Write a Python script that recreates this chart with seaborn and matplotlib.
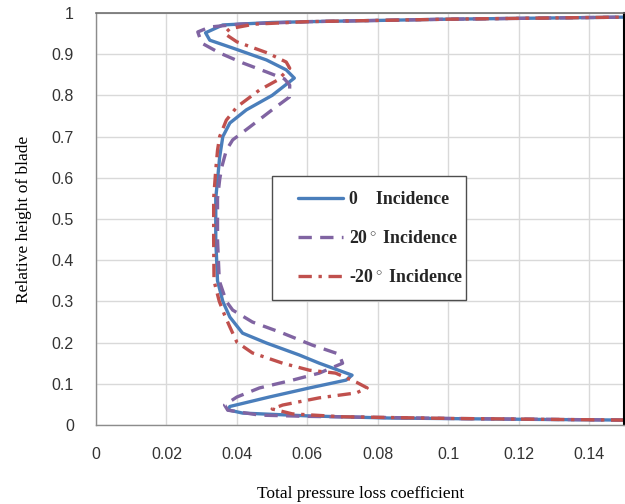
import matplotlib
matplotlib.use("Agg")
import matplotlib.pyplot as plt
from matplotlib.patches import Rectangle
import seaborn as sns
import pandas as pd

# ---- data ----
x_0 = [0.150, 0.120, 0.083, 0.0606, 0.0416, 0.0374, 0.038, 0.0492, 0.0606, 0.071, 0.0727,
       0.0634, 0.0577, 0.0484, 0.0416, 0.038, 0.036, 0.0345, 0.034, 0.034, 0.0345, 0.0351,
       0.036, 0.038, 0.0427, 0.050, 0.0563, 0.054, 0.0484, 0.0388, 0.0323, 0.0311, 0.036,
       0.050, 0.0606, 0.100, 0.150]
y_0 = [0.012, 0.014, 0.017, 0.022, 0.029, 0.037, 0.045, 0.068, 0.090, 0.109, 0.121,
       0.150, 0.170, 0.199, 0.223, 0.262, 0.300, 0.350, 0.450, 0.550, 0.595, 0.650,
       0.700, 0.733, 0.765, 0.800, 0.842, 0.862, 0.886, 0.915, 0.934, 0.952, 0.971,
       0.977, 0.979, 0.985, 0.990]

x_20 = [0.150, 0.100, 0.060, 0.0464, 0.0374, 0.0365, 0.040, 0.0464, 0.0558, 0.0634, 0.070,
        0.069, 0.0614, 0.053, 0.0444, 0.0388, 0.037, 0.035, 0.0345, 0.0345, 0.0351, 0.0357,
        0.037, 0.0388, 0.0436, 0.050, 0.0549, 0.055, 0.0535, 0.0484, 0.0416, 0.0351, 0.030,
        0.0289, 0.0323, 0.0408, 0.060, 0.100, 0.150]
y_20 = [0.012, 0.016, 0.021, 0.024, 0.036, 0.0485, 0.068, 0.090, 0.109, 0.126, 0.150,
        0.172, 0.194, 0.223, 0.250, 0.279, 0.300, 0.350, 0.450, 0.550, 0.595, 0.626,
        0.667, 0.692, 0.723, 0.765, 0.796, 0.825, 0.840, 0.857, 0.879, 0.903, 0.927,
        0.954, 0.966, 0.973, 0.979, 0.985, 0.990]

x_m20 = [0.150, 0.100, 0.070, 0.0558, 0.050, 0.053, 0.0634, 0.0739, 0.077, 0.0739, 0.068,
         0.0606, 0.053, 0.0444, 0.040, 0.038, 0.0365, 0.035, 0.0335, 0.0334, 0.0334, 0.034,
         0.0345, 0.0351, 0.037, 0.040, 0.0464, 0.0515, 0.055, 0.054, 0.0487, 0.040, 0.0365,
         0.038, 0.045, 0.060, 0.100, 0.150]
y_m20 = [0.012, 0.016, 0.020, 0.027, 0.039, 0.0485, 0.066, 0.078, 0.090, 0.104, 0.126,
         0.133, 0.150, 0.175, 0.201, 0.238, 0.267, 0.300, 0.350, 0.450, 0.550, 0.620,
         0.667, 0.700, 0.740, 0.772, 0.813, 0.837, 0.866, 0.881, 0.903, 0.930, 0.950,
         0.962, 0.973, 0.979, 0.985, 0.990]

labels = ["0    Incidence", "20$^\\circ$ Incidence", "-20$^\\circ$ Incidence"]
colors = ["#4a7ebb", "#8064a2", "#c0504d"]
x_ticks = [0, 0.02, 0.04, 0.06, 0.08, 0.1, 0.12, 0.14]
x_tick_labels = ["0", "0.02", "0.04", "0.06", "0.08", "0.1", "0.12", "0.14"]
y_ticks = [0, 0.1, 0.2, 0.3, 0.4, 0.5, 0.6, 0.7, 0.8, 0.9, 1]
y_tick_labels = ["0", "0.1", "0.2", "0.3", "0.4", "0.5", "0.6", "0.7", "0.8", "0.9", "1"]

sns.set_style("white")
plt.rcParams["font.family"] = ["Liberation Sans", "DejaVu Sans"]
plt.rcParams["mathtext.fontset"] = "custom"
plt.rcParams["mathtext.rm"] = "Liberation Serif"

fig = plt.figure(figsize=(6.25, 5.04), dpi=100)
ax = fig.add_axes([0.1536, 0.1567, 0.8454, 0.8175])

series = [(x_0, y_0), (x_20, y_20), (x_m20, y_m20)]
dash_styles = [None, (4, 2.5), (4, 2, 1, 2)]
for (xs, ys), lab, col, ds in zip(series, labels, colors, dash_styles):
    df = pd.DataFrame({"x": xs, "y": ys})
    sns.lineplot(data=df, x="x", y="y", sort=False, estimator=None,
                 color=col, lw=2.4, label=lab, ax=ax)
    ln = ax.lines[-1]
    if ds is not None:
        ln.set_dashes(ds)

ax.set_xlim(0, 0.15)
ax.set_ylim(0, 1)
ax.set_xticks(x_ticks)
ax.set_xticklabels(x_tick_labels)
ax.set_yticks(y_ticks)
ax.set_yticklabels(y_tick_labels)
ax.set_xticks([i * 0.004 for i in range(38)], minor=True)
ax.set_yticks([i * 0.02 for i in range(51)], minor=True)

ax.grid(True, which="major", color="#d9d9d9", lw=1)
ax.tick_params(axis="both", which="both", direction="inout", colors="#7f7f7f",
               labelcolor="#333333", labelsize=11.5)
ax.tick_params(axis="both", which="major", length=8, width=1)
ax.tick_params(axis="both", which="minor", length=7, width=1)
ax.tick_params(axis="x", which="major", pad=12)
ax.tick_params(axis="y", which="major", pad=12)

for s in ["left", "bottom"]:
    ax.spines[s].set_color("#8c8c8c")
    ax.spines[s].set_linewidth(1)
ax.spines["top"].set_color("#6f6f6f")
ax.spines["top"].set_linewidth(1.2)
ax.spines["right"].set_color("black")
ax.spines["right"].set_linewidth(1.5)

ax.set_xlabel("Total pressure loss coefficient", family="Liberation Serif",
              fontsize=12.5, labelpad=17, color="black")
ax.set_ylabel("Relative height of blade", family="Liberation Serif",
              fontsize=12.5, labelpad=14, color="black")

# legend frame (drawn separately so that the left padding can be wider)
frame = Rectangle((0.333, 0.303), 0.368, 0.301, transform=ax.transAxes,
                  facecolor="white", edgecolor="#4d4d4d", lw=1.0, zorder=5)
ax.add_patch(frame)

leg = ax.legend(loc="upper left", bbox_to_anchor=(0.382, 0.568), borderaxespad=0,
                frameon=False, handlelength=2.55,
                labelspacing=1.25, borderpad=0.0, handletextpad=0.35,
                prop={"family": "Liberation Serif", "size": 12.8, "weight": "bold"})
leg.set_zorder(6)

fig.savefig("out.png", dpi=100)
